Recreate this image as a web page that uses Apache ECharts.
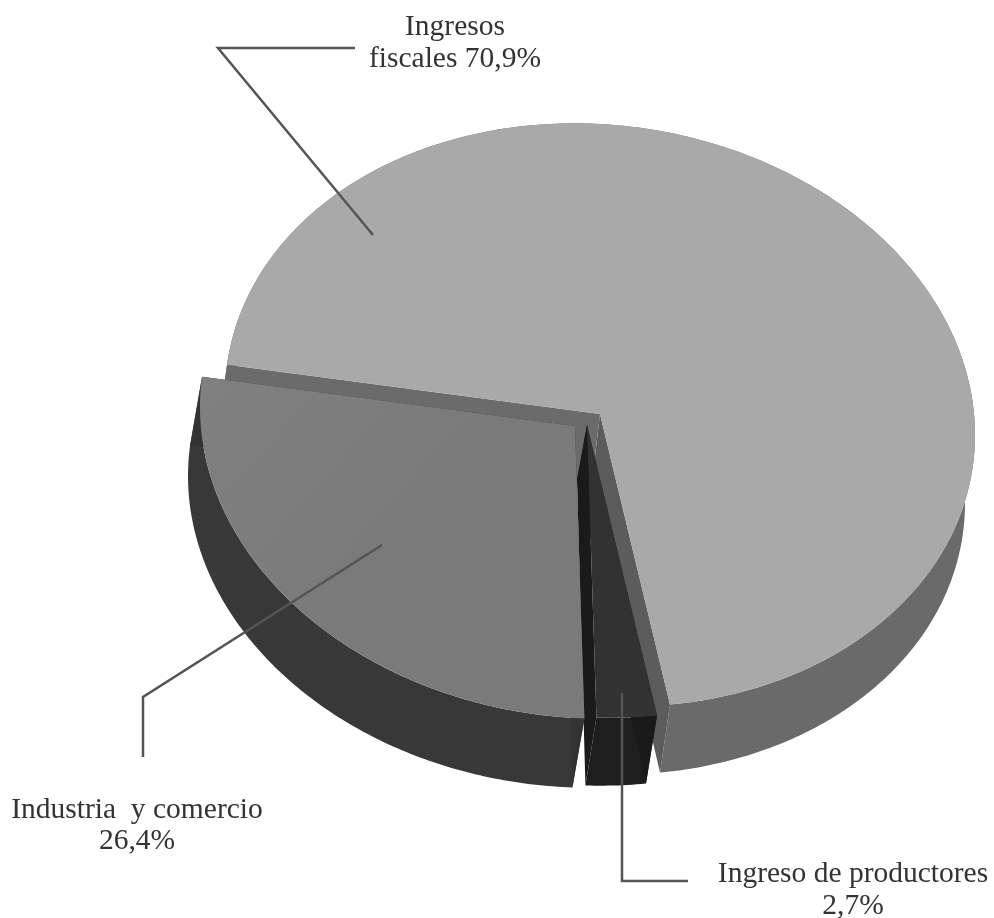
<!DOCTYPE html>
<html><head><meta charset="utf-8">
<style>html,body{margin:0;padding:0;background:#fff}#c{width:994px;height:918px}</style>
<script src="https://cdn.jsdelivr.net/npm/echarts@6/dist/echarts.min.js"></script>
</head><body><div id="c"></div>
<script>
// Data
const categories = ['Ingresos fiscales', 'Ingreso de productores', 'Industria y comercio'];
const shares = [70.9, 2.7, 26.4];
const labelLines = [['Ingresos', 'fiscales 70,9%'], ['Ingreso de productores', '2,7%'], ['Industria  y comercio', '26,4%']];

// Projection of the tilted disc
const RIM = {cx: 600, cy: 415, rx: 375, ry: 291, shear: 0.053, start: 186};
const APEX = [600, 414];
const NUDGE = [0, -2, -2.4, 0];               // degrees, perspective correction at slice boundaries
const EXPLODE = [[0, 0], [-13, 11], [-25, 12]];
const DEPTH = [[-10, 68], [-11, 68], [-12, 69]];
const APEX_DEPTH = [[-8, 67], [-10, 55], [-10, 55]];
const FACE = ['#a9a9a9', '#323232', {
  type: 'linear', x: 0, y: 0, x2: 1, y2: 1,
  colorStops: [{offset: 0, color: '#808080'}, {offset: 0.5, color: '#7a7a7a'}, {offset: 1, color: '#7a7a7a'}]
}];
const SIDE = ['#6a6a6a', '#1e1e1e', '#383838'];
const WALL_A = ['#5c5c5c', '#1a1a1a', '#333333'];
const WALL_B = ['#6b6b6b', '#1a1a1a', '#333333'];
const LINE = '#555555';
const leaders = [
  [[355, 48], [218, 48], [373, 235]],
  [[622, 693], [622, 881], [688, 881]],
  [[143, 757], [143, 697], [382, 545]]
];
const labelPos = [[455, 12, 32], [853, 859, 32], [137, 795, 31]];

function rim(tDeg) {
  const t = tDeg * Math.PI / 180, c = Math.cos(t), s = Math.sin(t);
  return [RIM.cx + RIM.rx * c, RIM.cy + RIM.shear * RIM.rx * c + RIM.ry * s];
}
const total = shares.reduce((a, b) => a + b, 0);
function bounds(i) {
  let cum = 0;
  for (let j = 0; j < i; j++) cum += shares[j];
  const a = RIM.start + cum / total * 360 + NUDGE[i];
  const b = RIM.start + (cum + shares[i]) / total * 360 + NUDGE[i + 1];
  return [a, b];
}
function poly(points, fill, extra) {
  return Object.assign({type: 'polygon', shape: {points}, style: {fill, stroke: null}}, extra || {});
}
function renderItem(params, api) {
  const i = params.dataIndex;
  const [a, b] = bounds(i);
  const ex = EXPLODE[i], d = DEPTH[i], ad = APEX_DEPTH[i];
  const pts = [];
  const n = Math.max(6, Math.ceil((b - a) / 0.75));
  for (let k = 0; k <= n; k++) {
    const p = rim(a + (b - a) * k / n);
    pts.push([p[0] + ex[0], p[1] + ex[1]]);
  }
  const ap = [APEX[0] + ex[0], APEX[1] + ex[1]];
  const apB = [ap[0] + ad[0], ap[1] + ad[1]];
  const lower = pts.map(p => [p[0] + d[0], p[1] + d[1]]);
  const first = pts[0], last = pts[pts.length - 1];
  const children = [];
  children.push(poly(pts.concat(lower.slice().reverse()), SIDE[i]));
  children.push(poly([ap, last, lower[lower.length - 1], apB], WALL_A[i]));
  children.push(poly([ap, first, lower[0], apB], WALL_B[i]));
  children.push(poly([ap].concat(pts), FACE[i]));
  children.push({type: 'polyline', z2: 5, shape: {points: leaders[i]}, style: {fill: null, stroke: LINE, lineWidth: 2.5, lineJoin: 'miter'}});
  const lp = labelPos[i];
  labelLines[i].forEach((t, j) => children.push({
    type: 'text', z2: 6,
    style: {text: t, x: lp[0], y: lp[1] + j * lp[2], fill: '#333333', font: '29.5px "Liberation Serif"', align: 'center', verticalAlign: 'top'}
  }));
  return {type: 'group', children};
}
const chart = echarts.init(document.getElementById('c'), null, {renderer: 'canvas'});
chart.setOption({
  animation: false,
  backgroundColor: '#ffffff',
  series: [{
    type: 'custom',
    coordinateSystem: 'none',
    renderItem,
    silent: true,
    data: shares.map((v, i) => ({name: categories[i], value: [v]}))
  }]
});
</script></body></html>
